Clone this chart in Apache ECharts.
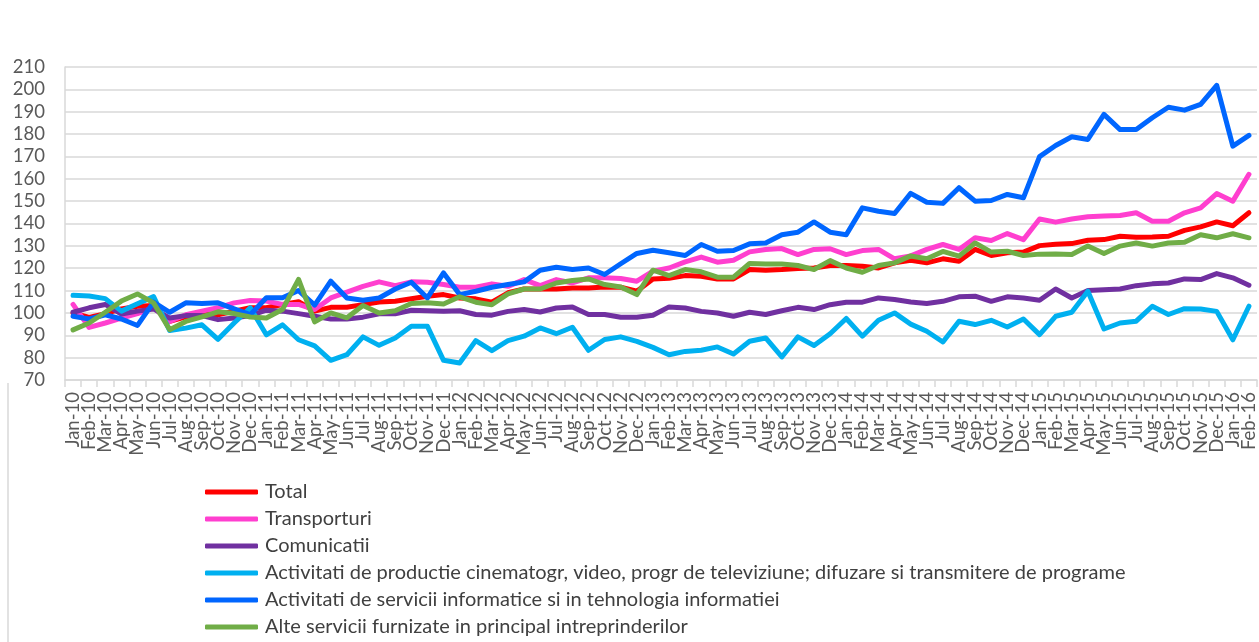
<!DOCTYPE html>
<html>
<head>
<meta charset="utf-8">
<script src="https://cdn.jsdelivr.net/npm/echarts@6/dist/echarts.min.js"></script>
<style>
html,body{margin:0;padding:0;background:#fff;}
#chart{width:1259px;height:642px;}
</style>
</head>
<body>
<div id="chart"></div>
<script>
var months = ['Jan','Feb','Mar','Apr','May','Jun','Jul','Aug','Sep','Oct','Nov','Dec'];
var categories = [];
['10','11','12','13','14','15','16'].forEach(function(y){
  months.forEach(function(m){ categories.push(m + '-' + y); });
});
categories = categories.slice(0, 74);

var yTicks = [70, 210, 10];

var total = [
  100, 98, 99.7, 101.8, 103, 103.3, 96.2, 98.2, 99.7, 99.2, 100.8, 102.3,
  102.3, 103.8, 105, 100.8, 102.5, 102.5, 103.7, 104.9, 105.2, 106.3, 107.5, 108.2,
  106.7, 106.3, 104.8, 109, 110.7, 110.7, 110.7, 111.2, 111.2, 111.6, 111.5, 109.7,
  115.2, 115.5, 116.7, 116.4, 115.2, 115.2, 119.4, 119.1, 119.4, 119.9, 120.1, 121.2,
  121.2, 120.9, 120.1, 122.4, 123.6, 122.4, 124.2, 123.1, 128.4, 125.7, 126.9, 127.2,
  130.1, 130.7, 131, 132.5, 132.8, 134.3, 133.9, 134, 134.3, 136.9, 138.5, 140.7,
  139, 144.8
];
var transporturi = [
  103.8, 93.5, 95.5, 97.7, 99.7, 102.3, 96.2, 99.2, 100.8, 102.3, 104.5, 105.6,
  105.3, 103.8, 103.8, 101.5, 106.7, 109.3, 111.9, 113.9, 112.2, 113.9, 113.7, 112.7,
  111.5, 111.5, 113, 111.9, 114.9, 112.2, 114.9, 113.4, 115.7, 115.7, 115.4, 114.2,
  118.7, 120.1, 122.8, 125, 122.7, 123.6, 127.3, 128.4, 128.8, 126.1, 128.4, 128.7,
  126.1, 127.9, 128.4, 124.2, 125.5, 128.4, 130.6, 128.4, 133.6, 132.4, 135.5, 132.8,
  142, 140.6, 142, 143, 143.3, 143.6, 144.8, 141, 141, 144.8, 147, 153.4,
  150, 162
];
var comunicatii = [
  100.3, 102.3, 103.8, 99.5, 100.8, 101.8, 97.7, 98.8, 98.8, 97, 97.7, 98.8,
  101.2, 100.8, 99.7, 98.5, 97.3, 97.3, 98.1, 99.6, 99.6, 101.2, 101, 100.7,
  101, 99.3, 99, 100.7, 101.5, 100.4, 102.2, 102.7, 99.3, 99.3, 98.1, 98.1,
  99, 102.7, 102.2, 100.7, 100, 98.5, 100.3, 99.3, 101, 102.5, 101.5, 103.7,
  104.8, 104.8, 106.7, 106, 104.9, 104.2, 105.2, 107.2, 107.5, 105.2, 107.2, 106.7,
  105.7, 110.7, 106.7, 110, 110.4, 110.7, 112.2, 113, 113.4, 115.2, 114.9, 117.6,
  115.7, 112.4
];
var productie = [
  107.9, 107.6, 106.4, 100.8, 104.1, 107.3, 92.1, 93.2, 94.7, 88.2, 95.5, 102.3,
  90.2, 94.7, 88, 85.3, 78.8, 81.3, 89.3, 85.5, 88.8, 94, 94, 78.8,
  77.6, 87.6, 83.1, 87.6, 89.6, 93.3, 90.7, 93.6, 83.3, 88.1, 89.3, 87.3,
  84.6, 81.3, 82.8, 83.3, 84.8, 81.6, 87.3, 88.8, 80.3, 89.3, 85.4, 90.7,
  97.5, 89.6, 96.7, 100, 95, 91.8, 87, 96.3, 94.8, 96.7, 93.7, 97.3,
  90.3, 98.5, 100.3, 109.7, 92.8, 95.5, 96.3, 103, 99.3, 101.9, 101.8, 100.7,
  88, 103
];
var informatice = [
  98.5, 97.3, 99.2, 97.3, 94.4, 104.8, 100.3, 104.5, 104.2, 104.5, 101.8, 99.2,
  106.8, 106.8, 110, 103.5, 114.2, 106.7, 105.7, 106.7, 110.7, 113.7, 106.7, 117.9,
  108.2, 109.7, 111.5, 112.7, 113.9, 119.1, 120.4, 119.4, 120.1, 117.2, 122, 126.6,
  128, 126.9, 125.7, 130.6, 127.6, 127.9, 130.9, 131.3, 135, 136.1, 140.7, 136.1,
  135, 147, 145.5, 144.5, 153.5, 149.5, 149, 156, 150, 150.3, 153, 151.5,
  169.9, 174.9, 178.8, 177.6, 188.8, 182, 182, 187.3, 192, 190.7, 193.3, 201.8,
  174.6, 179.4
];
var alte = [
  92.4, 95.5, 100.3, 105.3, 108.5, 104.5, 92.5, 96.2, 98.2, 100.5, 99.7, 98.2,
  97.7, 101.5, 115, 96, 100, 97.8, 103.3, 100, 101, 104.2, 104.5, 104,
  107.2, 104.8, 103.7, 108.5, 110.7, 110.7, 113.4, 114.5, 115.2, 112.7, 111.6, 108.2,
  119.1, 116.7, 119.4, 118.4, 116, 116, 122.1, 121.9, 121.9, 121.2, 119.4, 123.4,
  120.1, 118.2, 121.2, 122.4, 125.5, 124.2, 127.5, 125.4, 131.3, 127.2, 127.6, 125.7,
  126.3, 126.4, 126.1, 129.9, 126.6, 129.9, 131.3, 129.9, 131.3, 131.6, 135, 133.6,
  135.4, 133.6
];

var seriesNames = [
  'Total',
  'Transporturi',
  'Comunicatii',
  'Activitati de productie cinematogr, video, progr de televiziune; difuzare si transmitere de programe',
  'Activitati de servicii informatice si in tehnologia informatiei',
  'Alte servicii furnizate in principal intreprinderilor'
];
var seriesData = [total, transporturi, comunicatii, productie, informatice, alte];
var colors = ['#FF0000', '#FF3FCF', '#7030A0', '#00B0F0', '#0066FF', '#70AD47'];

var FONT = 'Lato, "Open Sans", sans-serif';
var chart = echarts.init(document.getElementById('chart'), null, {renderer: 'canvas'});
chart.setOption({
  animation: false,
  backgroundColor: '#ffffff',
  color: colors,
  grid: {left: 65, right: 2, top: 67, height: 313, containLabel: false},
  xAxis: {
    type: 'category',
    data: categories,
    boundaryGap: true,
    axisLine: {show: true, lineStyle: {color: '#D9D9D9', width: 1.5}},
    axisTick: {show: true, length: 7, interval: 0, lineStyle: {color: '#D9D9D9', width: 1.5}},
    axisLabel: {interval: 0, rotate: 90, color: '#595959', fontFamily: FONT, fontSize: 18.5, margin: 12}
  },
  yAxis: {
    type: 'value',
    min: yTicks[0], max: yTicks[1], interval: yTicks[2],
    axisLine: {show: true, lineStyle: {color: '#D9D9D9', width: 1.5}},
    axisTick: {show: false},
    splitLine: {show: true, lineStyle: {color: '#D9D9D9', width: 1.5}},
    axisLabel: {color: '#595959', fontFamily: FONT, fontSize: 18.5, margin: 20}
  },
  legend: {
    orient: 'vertical',
    left: 205, top: 480, height: 170, padding: 0,
    itemWidth: 53, itemHeight: 5, itemGap: 3,
    icon: 'roundRect',
    textStyle: {color: '#404040', fontFamily: FONT, fontSize: 20, lineHeight: 24, padding: [0,0,0,2]},
    data: seriesNames
  },
  graphic: [{
    type: 'line', shape: {x1: 8, y1: 383, x2: 8, y2: 642},
    style: {stroke: '#D9D9D9', lineWidth: 1.5}
  }],
  series: seriesNames.map(function(n, i){
    return {
      name: n, type: 'line', data: seriesData[i], showSymbol: false, symbol: 'none',
      lineStyle: {width: 5, color: colors[i], cap: 'round', join: 'round'},
      itemStyle: {color: colors[i]}
    };
  })
});
</script>
</body>
</html>
